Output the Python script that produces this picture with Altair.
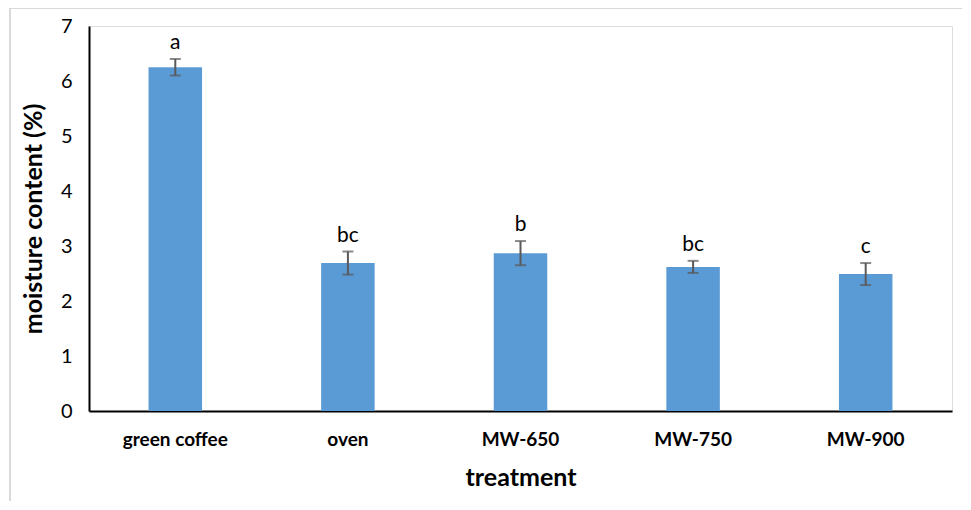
import altair as alt
import pandas as pd

categories = ["green coffee", "oven", "MW-650", "MW-750", "MW-900"]
means = [6.25, 2.69, 2.87, 2.62, 2.49]
errors = [0.15, 0.21, 0.22, 0.11, 0.20]
letters = ["a", "bc", "b", "bc", "c"]

df = pd.DataFrame({
    "treatment": categories,
    "mean": means,
    "lo": [m - e for m, e in zip(means, errors)],
    "hi": [m + e for m, e in zip(means, errors)],
    "letter": letters,
})

FONT = "Lato"

x = alt.X("treatment:N", sort=categories, title="treatment",
          scale=alt.Scale(paddingInner=0.69, paddingOuter=0.345),
          axis=alt.Axis(labelAngle=0, labelFontWeight="bold", labelFontSize=19,
                        labelColor="black", labelPadding=19, ticks=False,
                        domainColor="black", domainWidth=2,
                        titleFontSize=25, titleFontWeight="bold", titleColor="black",
                        titlePadding=16, labelFont=FONT, titleFont=FONT))

y_axis = alt.Axis(values=[0, 1, 2, 3, 4, 5, 6, 7], format="d", grid=False, ticks=False,
                  labelFontSize=20, labelColor="black", labelPadding=17,
                  domainColor="black", domainWidth=2,
                  title="moisture content (%)", titleFontSize=25, titleFontWeight="bold",
                  titleColor="black", titlePadding=14, labelFont=FONT, titleFont=FONT)

base = alt.Chart(df)

bars = base.mark_bar(color="#5B9BD5").encode(
    x=x,
    y=alt.Y("mean:Q", scale=alt.Scale(domain=[0, 7], nice=False), axis=y_axis),
)

rules = base.mark_rule(color="#595959", strokeWidth=2).encode(
    x=alt.X("treatment:N", sort=categories), y="lo:Q", y2="hi:Q")

caps_hi = base.mark_tick(color="#595959", thickness=2, size=11, orient="horizontal").encode(
    x=alt.X("treatment:N", sort=categories), y="hi:Q")
caps_lo = base.mark_tick(color="#595959", thickness=2, size=11, orient="horizontal").encode(
    x=alt.X("treatment:N", sort=categories), y="lo:Q")

labels = base.mark_text(fontSize=21, font=FONT, color="black", baseline="bottom", dy=-6).encode(
    x=alt.X("treatment:N", sort=categories), y="hi:Q", text="letter:N")

frame_top = alt.Chart(df).mark_rule(color="#d9d9d9", strokeWidth=2, clip=False).encode(
    x=alt.value(-79), x2=alt.value(900), y=alt.value(-18))
frame_left = alt.Chart(df).mark_rule(color="#d9d9d9", strokeWidth=2, clip=False).encode(
    x=alt.value(-79), y=alt.value(-18), y2=alt.value(500))

chart = alt.layer(frame_top, frame_left, bars, rules, caps_hi, caps_lo, labels).properties(
    width=863, height=385,
    autosize=alt.AutoSizeParams(type="none"),
    padding={"left": 81, "top": 18, "right": 10, "bottom": 90},
).configure_view(stroke=None).configure(font=FONT)

chart.save("out.html", embed_options={"renderer": "svg", "actions": False})
